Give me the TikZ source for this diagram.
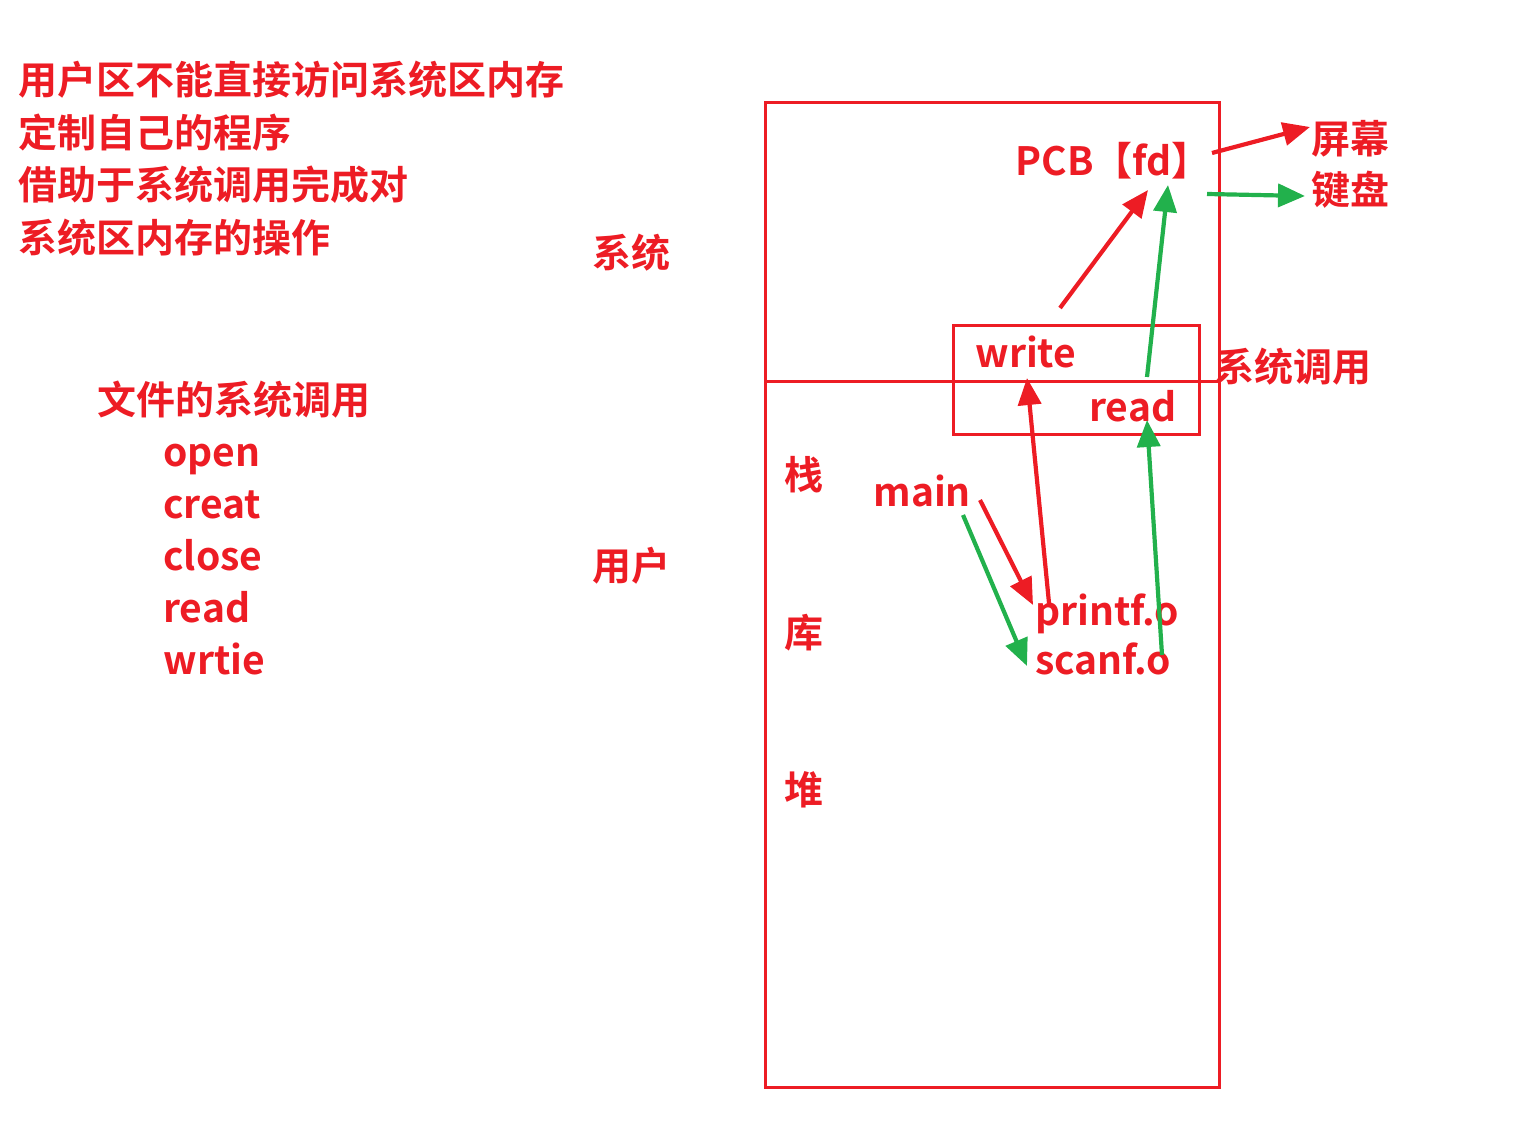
\documentclass[tikz,border=0pt]{standalone}
\usepackage{fontspec}
\setmainfont{Noto Sans CJK SC}[BoldFont={* Bold}]
\usepackage{tikz}
\usetikzlibrary{arrows.meta}
\usetikzlibrary{positioning}
\definecolor{penred}{HTML}{ED1C24}
\definecolor{pengreen}{HTML}{22B14C}

\begin{document}
\begin{tikzpicture}[x=0.5pt,y=-0.5pt,
    label text/.style={text=penred,font=\fontsize{19.5}{26}\selectfont\bfseries,inner sep=0pt,anchor=base west},
    frame/.style={draw=penred,line width=1.5pt},
    red arrow/.style={draw=penred,line width=2.1pt,-{Triangle[length=13.5pt,width=11.5pt]}},
    green arrow/.style={draw=pengreen,line width=2.1pt,-{Triangle[length=13.5pt,width=11.5pt]}}]
  \useasboundingbox (0,0) rectangle (1515,1138);

  % notes on the left
  \node[label text] (note1) at (18,95) {用户区不能直接访问系统区内存};
  \node[label text] (note2) at (18,148) {定制自己的程序};
  \node[label text] (note3) at (18,200) {借助于系统调用完成对};
  \node[label text] (note4) at (18,253) {系统区内存的操作};

  \node[label text] (files) at (97,415) {文件的系统调用};
  \node[label text] (open) at (163,467) {open};
  \node[label text] (creat) at (163,519) {creat};
  \node[label text] (close) at (163,571) {close};
  \node[label text] (readcall) at (163,623) {read};
  \node[label text] (wrtie) at (163,675) {wrtie};

  \node[label text] (sys) at (592,268) {系统};
  \node[label text] (user) at (592,581) {用户};

  % memory
  \draw[frame] (765,103) rectangle (1219,1087);
  \draw[frame] (765,382) -- (1219,382);
  \draw[frame] (953,326) rectangle (1199,435);

  \node[label text] (pcb) at (1015,176) {PCB【fd】};
  \node[label text] (screen) at (1311,154) {屏幕};
  \node[label text] (keyboard) at (1311,205) {键盘};
  \node[label text] (syscall) at (1215,382) {系统调用};
  \node[label text] (write) at (975,368) {write};
  \node[label text] (read) at (1089,422) {read};

  \node[label text] (stack) at (784,490) {栈};
  \node[label text] (lib) at (784,647) {库};
  \node[label text] (heap) at (784,804) {堆};

  \node[label text] (main) at (873,507) {main};
  \node[label text] (printf) at (1035,625) {printf.o};
  \node[label text] (scanf) at (1035,675) {scanf.o};

  % calls
  \draw[red arrow] ([xshift=53.5pt,yshift=3.5pt]main.base west) -- ([xshift=-1pt,yshift=10pt]printf.base west);
  \draw[green arrow] ([xshift=45pt,yshift=-4pt]main.base west) -- ([xshift=-4pt,yshift=4.5pt]scanf.base west);
  \draw[red arrow] ([xshift=7pt,yshift=11pt]printf.base west) -- ([xshift=26pt,yshift=-5pt]write.base west);
  \draw[green arrow] ([xshift=63.5pt,yshift=10pt]scanf.base west) -- ([xshift=29pt,yshift=1pt]read.base west);
  \draw[red arrow] ([xshift=42.5pt,yshift=30pt]write.base west) -- ([xshift=66.5pt,yshift=-7pt]pcb.base west);
  \draw[green arrow] ([xshift=29pt,yshift=22.5pt]read.base west) -- ([xshift=76.5pt,yshift=-4.5pt]pcb.base west);
  \draw[red arrow] ([xshift=98.5pt,yshift=11.5pt]pcb.base west) -- ([xshift=-0.5pt,yshift=13.5pt]screen.base west);
  \draw[green arrow] ([xshift=96pt,yshift=-9pt]pcb.base west) -- ([xshift=-3pt,yshift=4.5pt]keyboard.base west);
\end{tikzpicture}
\end{document}
